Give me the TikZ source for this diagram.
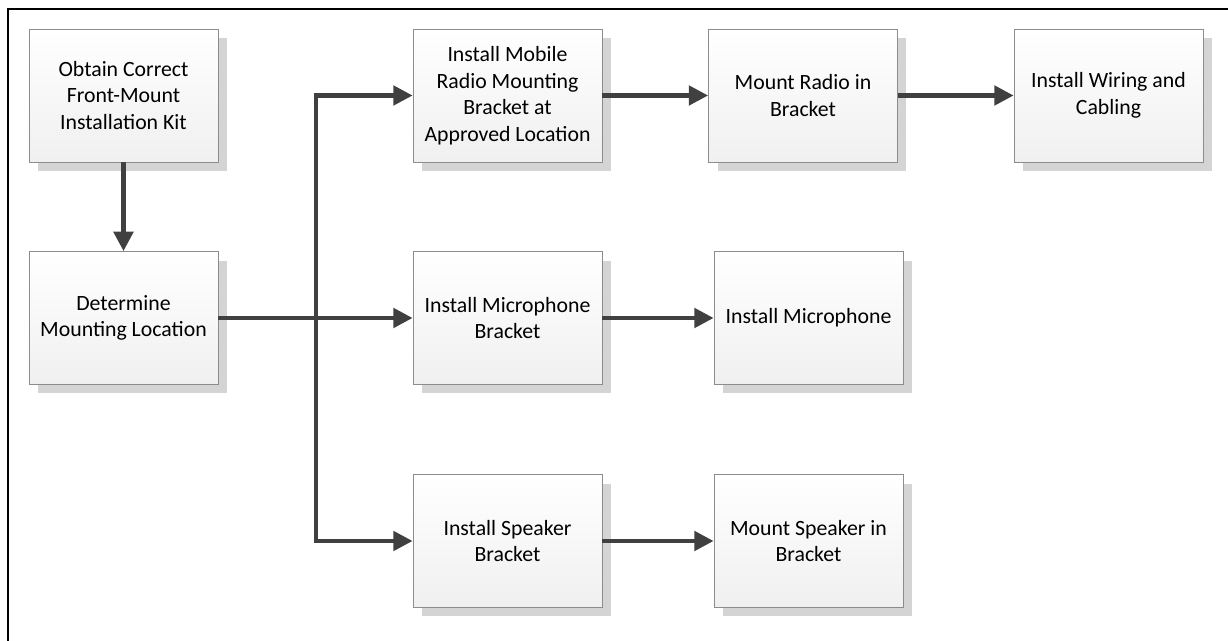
\documentclass[tikz,border=0pt]{standalone}
\usepackage{fontspec}
\setmainfont{Carlito}
\usepackage{tikz}
\usetikzlibrary{arrows.meta}
\usetikzlibrary{shadows}
\definecolor{arrowgray}{HTML}{404040}
\definecolor{boxborder}{HTML}{8C8C8C}
\definecolor{shadowgray}{HTML}{D4D4D4}

\begin{document}
\begin{tikzpicture}[
                x=0.02cm, y=-0.02cm,
                font=\fontsize{12.4}{15.1}\selectfont,
                stepbox/.style={draw=boxborder, line width=0.5pt, minimum width=3.78cm, minimum height=2.66cm,
                    align=center, top color=white, bottom color=black!6, text=black,
                    drop shadow={shadow xshift=0.18cm, shadow yshift=-0.18cm, fill=shadowgray, opacity=1}},
                arrow/.style={draw=arrowgray, line width=2.4pt, -{Triangle[length=11pt, width=11pt]}}
            ]
            \useasboundingbox (0, 0) rectangle (1228, 641);
            \draw[line width=1.1pt] (8, 641) -- (8, 9) -- (1228, 9);
            \node[stepbox] (kit) at (123.5, 95.5) {Obtain Correct\\Front-Mount\\Installation Kit};
            \node[stepbox] (location) at (123.5, 318) {Determine\\Mounting Location};
            \node[stepbox] (bracket) at (507.5, 95.5) {Install Mobile\\Radio Mounting\\Bracket at\\Approved Location};
            \node[stepbox] (radio) at (803, 95.5) {Mount Radio in\\Bracket};
            \node[stepbox] (wiring) at (1108.5, 95.5) {Install Wiring and\\Cabling};
            \node[stepbox] (micbracket) at (507.5, 318) {Install Microphone\\Bracket};
            \node[stepbox] (mic) at (808.5, 318) {Install Microphone};
            \node[stepbox] (spkbracket) at (507.5, 541) {Install Speaker\\Bracket};
            \node[stepbox] (speaker) at (808.5, 541) {Mount Speaker in\\Bracket};
            \coordinate (split) at (316, 318);
            \draw[arrow] (kit) -- (location);
            \draw[arrow] (location) -- (micbracket);
            \draw[arrow] (split) |- (bracket.west);
            \draw[arrow] (split) |- (spkbracket.west);
            \draw[arrow] (bracket) -- (radio);
            \draw[arrow] (radio) -- (wiring);
            \draw[arrow] (micbracket) -- (mic);
            \draw[arrow] (spkbracket) -- (speaker);
        \end{tikzpicture}
\end{document}
